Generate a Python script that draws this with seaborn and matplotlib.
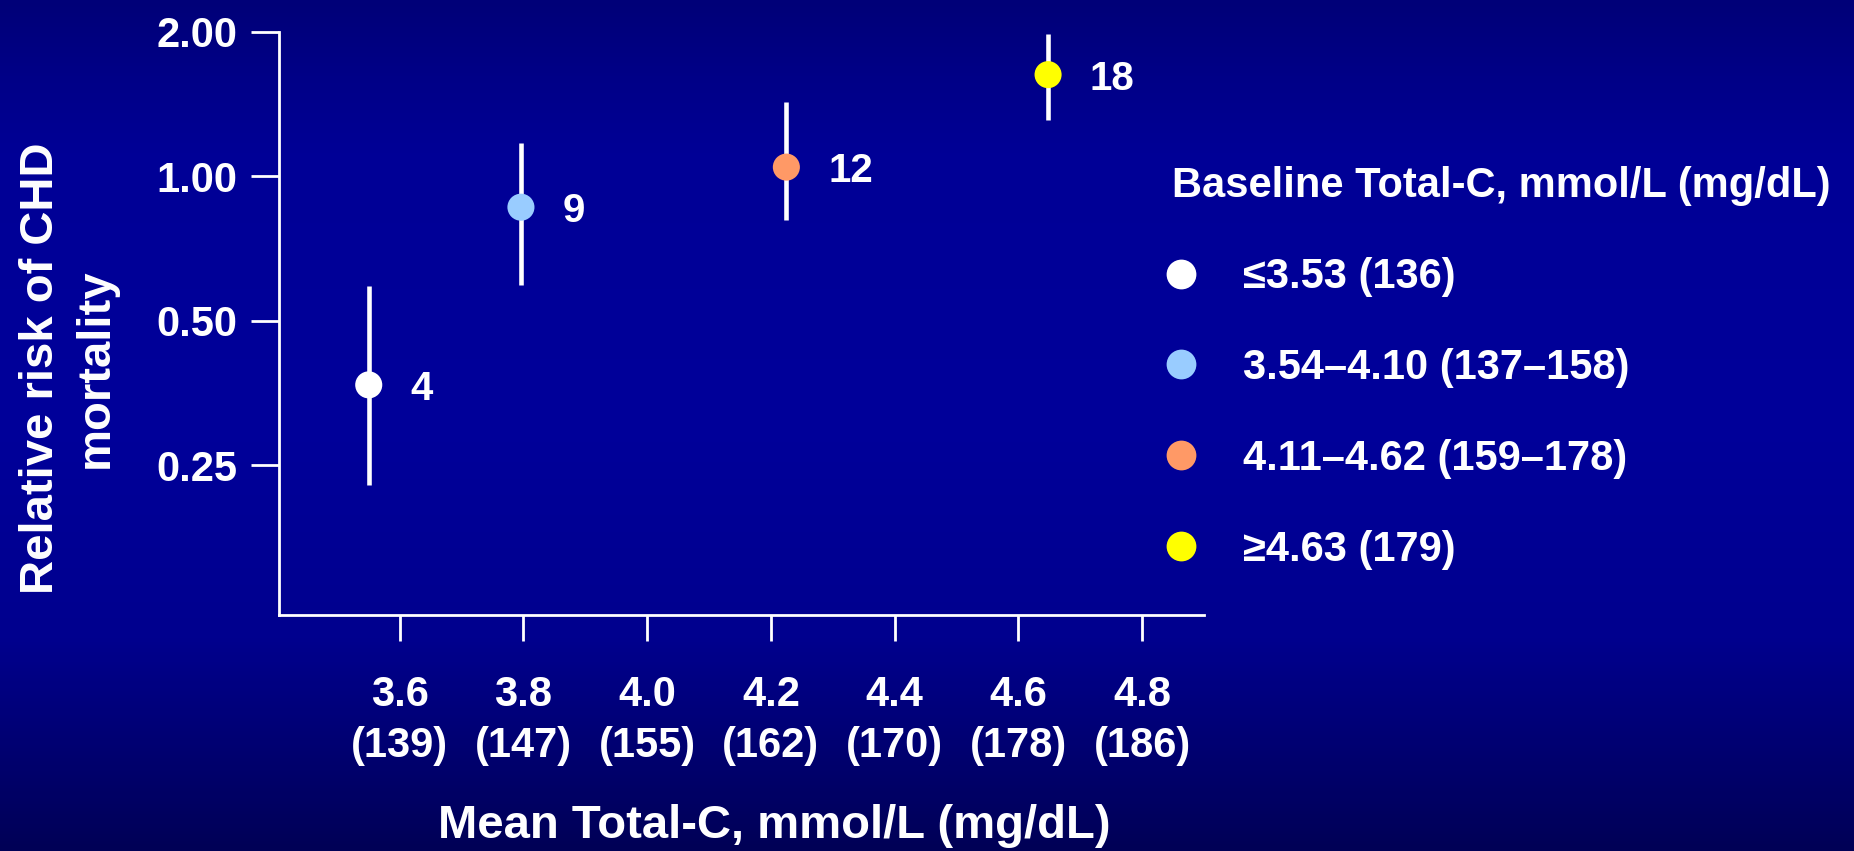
import matplotlib
matplotlib.use("Agg")
import matplotlib.pyplot as plt
import numpy as np
import pandas as pd
import seaborn as sns
from matplotlib.colors import LinearSegmentedColormap

# values
groups = ["≤3.53 (136)", "3.54–4.10 (137–158)", "4.11–4.62 (159–178)", "≥4.63 (179)"]
mean_tc = [3.55, 3.796, 4.225, 4.648]
rel_risk = [0.368, 0.863, 1.046, 1.63]
ci_low = [0.228, 0.594, 0.811, 1.31]
ci_high = [0.592, 1.172, 1.43, 1.98]
n_labels = ["4", "9", "12", "18"]
colours = ["#ffffff", "#99ccff", "#ff9966", "#ffff00"]

xticks = [3.6, 3.8, 4.0, 4.2, 4.4, 4.6, 4.8]
xtick_labels = ["3.6\n(139)", "3.8\n(147)", "4.0\n(155)", "4.2\n(162)",
                "4.4\n(170)", "4.6\n(178)", "4.8\n(186)"]
yticks = [0.25, 0.5, 1.0, 2.0]
ytick_labels = ["0.25", "0.50", "1.00", "2.00"]

data = pd.DataFrame({"Mean": mean_tc, "RR": rel_risk, "lo": ci_low, "hi": ci_high,
                     "Group": groups, "n": n_labels})

sns.set_theme(style="white")
plt.rcParams["font.family"] = ["Liberation Sans", "DejaVu Sans"]
plt.rcParams["font.weight"] = "bold"

fig = plt.figure(figsize=(18.54, 8.51), dpi=100)

# gradient slide background
bg = fig.add_axes([0, 0, 1, 1], zorder=-10)
cmap = LinearSegmentedColormap.from_list(
    "slide", [(0.0, "#000078"), (0.18, "#000096"), (0.5, "#00009a"),
              (0.75, "#00008e"), (1.0, "#000056")])
bg.imshow(np.linspace(0, 1, 256).reshape(-1, 1), aspect="auto", cmap=cmap,
          extent=[0, 1, 0, 1], origin="upper")
bg.set_axis_off()

ax = fig.add_axes([0.1505, 0.2773, 0.4989, 0.6851])
ax.patch.set_alpha(0)

ax.vlines(data["Mean"], data["lo"], data["hi"], color="white", lw=3.3, zorder=2)
sns.scatterplot(data=data, x="Mean", y="RR", hue="Group", palette=colours,
                s=380, edgecolor="none", ax=ax, zorder=3)

for _, r in data.iterrows():
    ax.annotate(r["n"], (r["Mean"], r["RR"]), xytext=(30, -3), textcoords="offset points",
                color="white", fontsize=29, fontweight="bold", va="center", ha="left")

ax.set_yscale("log", base=2)
ax.set_ylim(0.122, 2.0)
ax.set_xlim(3.405, 4.9)
ax.set_yticks(yticks)
ax.set_yticklabels(ytick_labels)
ax.minorticks_off()
ax.set_xticks(xticks)
ax.set_xticklabels(xtick_labels)
for lab in ax.get_xticklabels():
    lab.set_linespacing(1.35)

ax.tick_params(axis="both", colors="white", labelsize=30, width=2, direction="out")
ax.tick_params(axis="x", length=19, pad=24)
ax.tick_params(axis="y", length=20, pad=10)
ax.tick_params(left=True, bottom=True)

sns.despine(ax=ax)
for side in ["left", "bottom"]:
    ax.spines[side].set_color("white")
    ax.spines[side].set_linewidth(2)

ax.set_xlabel("Mean Total-C, mmol/L (mg/dL)", color="white", fontsize=34,
              fontweight="bold", va="center")
ax.xaxis.set_label_coords(0.535, -0.362)
ax.set_ylabel("Relative risk of CHD\nmortality", color="white", fontsize=34,
              fontweight="bold", linespacing=1.32, va="center")
ax.yaxis.set_label_coords(-0.228, 0.424)

sns.move_legend(ax, "upper left", bbox_to_anchor=(0.6208, 0.829),
                bbox_transform=fig.transFigure, title="Baseline Total-C, mmol/L (mg/dL)",
                frameon=False, fontsize=30, title_fontsize=30, labelspacing=1.22,
                handlelength=0.45, handletextpad=1.25, borderpad=0, markerscale=1.1)
leg = ax.get_legend()
leg._legend_box.align = "left"
leg.get_title().set_color("white")
leg.get_title().set_fontweight("bold")
for t in leg.get_texts():
    t.set_color("white")
    t.set_fontweight("bold")

fig.savefig("out.png", dpi=100)
